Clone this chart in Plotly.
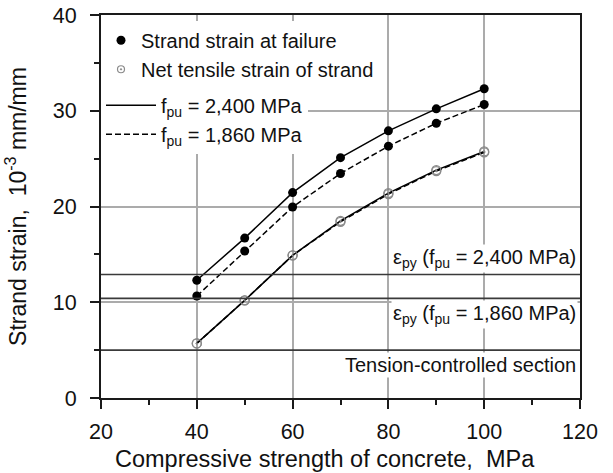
import plotly.graph_objects as go

# ---------------- data ----------------
fc = [40, 50, 60, 70, 80, 90, 100]
fail_2400 = [12.3, 16.7, 21.45, 25.1, 27.9, 30.2, 32.3]
fail_1860 = [10.65, 15.35, 19.95, 23.45, 26.3, 28.7, 30.65]
net_2400 = [5.7, 10.2, 14.9, 18.5, 21.4, 23.8, 25.75]
net_1860 = [5.7, 10.2, 14.9, 18.4, 21.3, 23.7, 25.65]

ref_values = [12.9, 10.4, 5.0]
ref_labels = ["ε<sub>py</sub> (f<sub>pu</sub> = 2,400 MPa)",
              "ε<sub>py</sub> (f<sub>pu</sub> = 1,860 MPa)",
              "Tension-controlled section"]
ref_side = ["above", "below", "below"]

x_ticks = [20, 40, 60, 80, 100, 120]
y_ticks = [0, 10, 20, 30, 40]

x_title = "Compressive strength of concrete,\u00a0 MPa"
y_title = "Strand strain,\u00a0 10<sup>-3</sup> mm/mm"

FONT = "Arial, 'Liberation Sans', sans-serif"

fig = go.Figure()

# reference horizontal lines
for v in ref_values:
    fig.add_shape(type="line", xref="paper", yref="y", x0=0, x1=1, y0=v, y1=v,
                  line=dict(color="#3a3a3a", width=1.6), layer="above")

net_marker = dict(symbol="circle-open-dot", size=9, color="#8a8a8a",
                  line=dict(width=1.3, color="#8a8a8a"))
fail_marker = dict(symbol="circle", size=9, color="black")

fig.add_trace(go.Scatter(x=fc, y=net_1860, mode="lines+markers",
                         line=dict(color="black", width=1.5, dash="6px,3px"),
                         marker=net_marker, showlegend=False))
fig.add_trace(go.Scatter(x=fc, y=net_2400, mode="lines+markers",
                         line=dict(color="black", width=1.5),
                         marker=net_marker, showlegend=False))
fig.add_trace(go.Scatter(x=fc, y=fail_1860, mode="lines+markers",
                         line=dict(color="black", width=1.5, dash="6px,3px"),
                         marker=fail_marker, showlegend=False))
fig.add_trace(go.Scatter(x=fc, y=fail_2400, mode="lines+markers",
                         line=dict(color="black", width=1.5),
                         marker=fail_marker, showlegend=False))

# legend entries
fig.add_trace(go.Scatter(x=[None], y=[None], mode="markers", marker=fail_marker,
                         name="Strand strain at failure", legend="legend"))
fig.add_trace(go.Scatter(x=[None], y=[None], mode="markers",
                         marker=dict(symbol="circle-open-dot", size=7, color="#8a8a8a",
                                     line=dict(width=1.2, color="#8a8a8a")),
                         name="Net tensile strain of strand", legend="legend"))
fig.add_trace(go.Scatter(x=[None], y=[None], mode="lines",
                         line=dict(color="black", width=1.5),
                         name="f<sub>pu</sub> = 2,400 MPa", legend="legend2"))
fig.add_trace(go.Scatter(x=[None], y=[None], mode="lines",
                         line=dict(color="black", width=1.5, dash="6px,3px"),
                         name="f<sub>pu</sub> = 1,860 MPa", legend="legend2"))

for v, t, s in zip(ref_values, ref_labels, ref_side):
    fig.add_annotation(xref="paper", yref="y", x=1, y=v, text=t, showarrow=False,
                       xanchor="right", yanchor="bottom" if s == "above" else "top",
                       xshift=-2, yshift=1 if s == "above" else -2,
                       bgcolor="white", borderpad=1,
                       font=dict(family=FONT, size=20, color="#111"))

# x-axis title (placed as annotation to match its horizontal offset)
fig.add_annotation(xref="paper", yref="paper", x=0.468, y=0, yshift=-46,
                   xanchor="center", yanchor="top", showarrow=False,
                   text=x_title, font=dict(family=FONT, size=23.5, color="#111"))

axis_common = dict(showline=True, linecolor="#1a1a1a", linewidth=2, mirror=True,
                   ticks="outside", tickcolor="#1a1a1a", tickwidth=2, ticklen=9,
                   showgrid=True, gridcolor="#ababab", gridwidth=1.5,
                   zeroline=False,
                   tickfont=dict(family=FONT, size=21.5, color="#111"))

fig.update_xaxes(range=[20, 120], tickvals=x_ticks, **axis_common,
                 ticklabelstandoff=4,
                 minor=dict(dtick=10, ticks="outside", ticklen=5, tickwidth=2,
                            tickcolor="#1a1a1a", showgrid=False))
fig.update_yaxes(range=[0, 40], tickvals=y_ticks, **axis_common,
                 ticklabelstandoff=9,
                 minor=dict(dtick=5, ticks="outside", ticklen=5, tickwidth=2,
                            tickcolor="#1a1a1a", showgrid=False),
                 title=dict(text=y_title,
                            font=dict(family=FONT, size=23, color="#111"), standoff=20))

fig.update_layout(
    width=613, height=473,
    margin=dict(l=101, r=33, t=15, b=75, autoexpand=False),
    plot_bgcolor="white", paper_bgcolor="white",
    legend=dict(x=0.0, y=0.985, xanchor="left", yanchor="top",
                bgcolor="white", borderwidth=0,
                font=dict(family=FONT, size=20, color="#111"),
                itemwidth=30),
    legend2=dict(x=0.0, y=0.815, xanchor="left", yanchor="top",
                 bgcolor="white", borderwidth=0,
                 font=dict(family=FONT, size=20, color="#111"),
                 itemwidth=50),
)

fig.write_html("out.html")
